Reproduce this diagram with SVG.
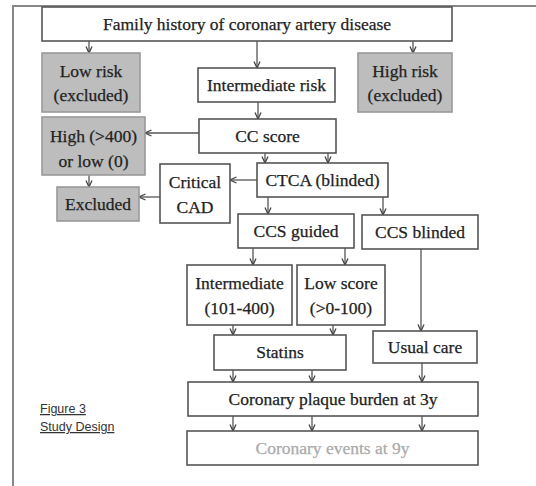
<svg xmlns="http://www.w3.org/2000/svg" width="536" height="486" viewBox="0 0 536 486">
<defs>
<style>
.box{fill:#fff;stroke:#555;stroke-width:1.6}
.gbox{fill:#bdbdbd;stroke:#999;stroke-width:1.6}
.t{font-family:"Liberation Serif","Times New Roman",serif;font-size:17.5px;fill:#222;stroke:#222;stroke-width:0.25;text-anchor:middle}
.c{stroke:#555;stroke-width:1.3;fill:none;marker-end:url(#ah)}
.cap{font-family:"Liberation Sans",Arial,sans-serif;font-size:12.5px;fill:#333;text-decoration:underline}
</style>
<marker id="ah" viewBox="0 0 8 8" refX="7.5" refY="4" markerWidth="8" markerHeight="8" markerUnits="userSpaceOnUse" orient="auto">
<path d="M1,1 L7.5,4 L1,7" fill="none" stroke="#444" stroke-width="1.3"/>
</marker>
</defs>
<rect width="536" height="486" fill="#fff"/>
<path d="M536,6 H13 V486" fill="none" stroke="#888" stroke-width="2"/>
<g id="connectors">
<path class="c" d="M89,41 V53"/>
<path class="c" d="M257,41 V68"/>
<path class="c" d="M413,41 V53"/>
<path class="c" d="M258,102 V119"/>
<path class="c" d="M199,133 H145"/>
<path class="c" d="M265,153 V163"/>
<path class="c" d="M328,153 V163"/>
<path class="c" d="M89,175 V187"/>
<path class="c" d="M257,180 H230"/>
<path class="c" d="M160,197 H139"/>
<path class="c" d="M268,197 V214"/>
<path class="c" d="M383,197 V215"/>
<path class="c" d="M253,248 V265"/>
<path class="c" d="M345,248 V265"/>
<path class="c" d="M421,249 V331"/>
<path class="c" d="M233,325 V335"/>
<path class="c" d="M333,325 V335"/>
<path class="c" d="M233,370 V382"/>
<path class="c" d="M312,370 V382"/>
<path class="c" d="M422,363 V382"/>
<path class="c" d="M233,416 V431"/>
<path class="c" d="M312,416 V431"/>
<path class="c" d="M422,416 V431"/>
</g>
<g id="family"><rect class="box" x="42" y="7" width="410" height="34"/><text class="t" x="247" y="30">Family history of coronary artery disease</text></g>
<g id="lowrisk"><rect class="gbox" x="42" y="53" width="98" height="59"/><text class="t" x="91" y="77">Low risk</text><text class="t" x="91" y="101">(excluded)</text></g>
<g id="highrisk"><rect class="gbox" x="358" y="53" width="94" height="59"/><text class="t" x="405" y="77">High risk</text><text class="t" x="405" y="101">(excluded)</text></g>
<g id="intermediaterisk"><rect class="box" x="198" y="68" width="137" height="34"/><text class="t" x="266.5" y="91">Intermediate risk</text></g>
<g id="ccscore"><rect class="box" x="199" y="119" width="137" height="34"/><text class="t" x="267.5" y="142">CC score</text></g>
<g id="highlow"><rect class="gbox" x="42" y="117" width="103" height="58"/><text class="t" x="93.5" y="142">High (&gt;400)</text><text class="t" x="93.5" y="167">or low (0)</text></g>
<g id="ctca"><rect class="box" x="257" y="163" width="131" height="34"/><text class="t" x="322.5" y="186">CTCA (blinded)</text></g>
<g id="critical"><rect class="box" x="160" y="164" width="70" height="59"/><text class="t" x="195" y="188">Critical</text><text class="t" x="195" y="213">CAD</text></g>
<g id="excluded"><rect class="gbox" x="57" y="187" width="82" height="34"/><text class="t" x="98" y="210">Excluded</text></g>
<g id="ccsguided"><rect class="box" x="238" y="214" width="116" height="34"/><text class="t" x="296" y="237">CCS guided</text></g>
<g id="ccsblinded"><rect class="box" x="362" y="215" width="116" height="34"/><text class="t" x="420" y="238">CCS blinded</text></g>
<g id="intermediate"><rect class="box" x="187" y="265" width="105" height="60"/><text class="t" x="239.5" y="289">Intermediate</text><text class="t" x="239.5" y="314">(101-400)</text></g>
<g id="lowscore"><rect class="box" x="297" y="265" width="88" height="60"/><text class="t" x="341" y="289">Low score</text><text class="t" x="341" y="314">(&gt;0-100)</text></g>
<g id="statins"><rect class="box" x="214" y="335" width="132" height="35"/><text class="t" x="280" y="358">Statins</text></g>
<g id="usualcare"><rect class="box" x="373" y="331" width="104" height="32"/><text class="t" x="425" y="353">Usual care</text></g>
<g id="plaque"><rect class="box" x="188" y="382" width="290" height="34"/><text class="t" x="333" y="405">Coronary plaque burden at 3y</text></g>
<g id="events"><rect class="box" x="187" y="431" width="291" height="34"/><text class="t" x="332.5" y="454" style="fill:#aaa;stroke:#aaa">Coronary events at 9y</text></g>
<g id="caption"><text class="cap" x="40" y="413">Figure 3</text><text class="cap" x="40" y="431">Study Design</text></g>
</svg>
